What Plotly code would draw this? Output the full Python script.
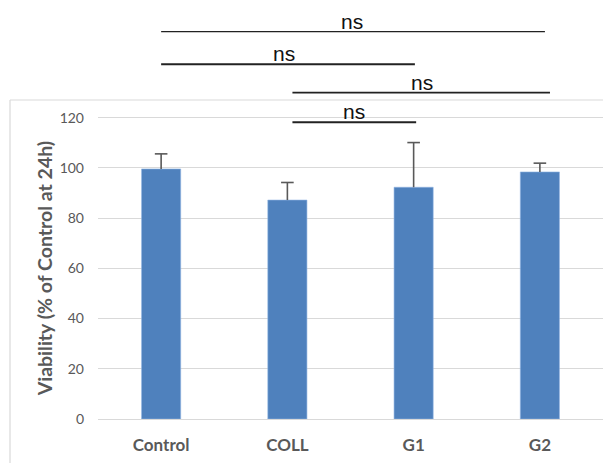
import plotly.graph_objects as go

# ---- data ----
categories = ["Control", "COLL", "G1", "G2"]
viability = [99.6, 87.2, 92.3, 98.4]
errors = [6.0, 7.0, 17.8, 3.5]
y_ticks = [0, 20, 40, 60, 80, 100, 120]

# significance brackets
sig_x0 = [0.0, 0.0, 1.04, 1.04]
sig_x1 = [3.04, 2.01, 3.08, 2.02]
sig_y = [154.3, 141.3, 130.0, 118.2]
sig_w = [1.4, 2.2, 1.6, 1.8]
sig_labels = ["ns", "ns", "ns", "ns"]
sig_text_x = [1.51, 0.97, 2.07, 1.53]
sig_text_y = [158.5, 145.6, 134.2, 122.4]

# page body has an 8px default margin: lay the figure out in screen pixels minus 8
OFF = 8
W, H = 611 - OFF, 463 - OFF
ML, MR, MT, MB = 98 - OFF, 8, 0, 44
PW = W - ML - MR
PH = H - MT - MB

def px_x(p):
    return (p - OFF - ML) / PW

def px_y(p):
    return 1 - (p - OFF - MT) / PH

grey = "#595959"
grid = "#d9d9d9"

fig = go.Figure()
fig.add_trace(go.Bar(
    x=categories, y=viability, width=0.31,
    marker=dict(color="#4f81bd", line=dict(color="#8eb4e3", width=0.6)),
    error_y=dict(type="data", array=errors, symmetric=False, arrayminus=[0]*4,
                 color=grey, thickness=1.6, width=0),
    showlegend=False,
))
# error-bar caps (top only)
fig.add_trace(go.Scatter(
    x=categories, y=[v + e for v, e in zip(viability, errors)], mode="markers",
    marker=dict(symbol="line-ew", size=9, line=dict(color=grey, width=1.6)),
    showlegend=False, hoverinfo="skip",
))

shapes = []
for x0, x1, y, w in zip(sig_x0, sig_x1, sig_y, sig_w):
    shapes.append(dict(type="line", xref="x", yref="y", x0=x0, x1=x1, y0=y, y1=y,
                       line=dict(color="#222222", width=w)))
# chart-area frame (left & top edges)
shapes.append(dict(type="line", xref="paper", yref="paper", x0=px_x(10), x1=px_x(10),
                   y0=px_y(100), y1=px_y(480), line=dict(color=grid, width=1.2)))
shapes.append(dict(type="line", xref="paper", yref="paper", x0=px_x(10), x1=px_x(640),
                   y0=px_y(100), y1=px_y(100), line=dict(color=grid, width=1.2)))

annotations = []
for tx, ty, lab in zip(sig_text_x, sig_text_y, sig_labels):
    annotations.append(dict(x=tx, y=ty, xref="x", yref="y", text=lab, showarrow=False,
                            font=dict(family="Liberation Sans, Arial", size=21, color="#111111"),
                            xanchor="center", yanchor="middle"))
annotations.append(dict(x=0, xref="paper", xshift=-54, y=60, yref="y",
                        text="<b>Viability (% of Control at 24h)</b>", textangle=-90,
                        showarrow=False, xanchor="center", yanchor="middle",
                        font=dict(family="Lato, Open Sans", size=19.5, color=grey)))

fig.update_layout(
    width=W, height=H,
    margin=dict(l=ML, r=MR, t=MT, b=MB),
    paper_bgcolor="white", plot_bgcolor="white",
    shapes=shapes, annotations=annotations,
    xaxis=dict(range=[-0.5, 3.5], showgrid=False, showline=True, linecolor=grid, linewidth=1.2,
               ticks="", tickfont=dict(family="Lato, Open Sans", size=17, color=grey, weight="bold"),
               ticklabelstandoff=10),
    yaxis=dict(range=[0, 163.7], tickvals=y_ticks, showgrid=True, gridcolor=grid, gridwidth=1.2,
               zeroline=False, showline=False, ticks="",
               tickfont=dict(family="Lato, Open Sans", size=14, color=grey),
               ticklabelstandoff=13),
)

fig.write_html("out.html")
